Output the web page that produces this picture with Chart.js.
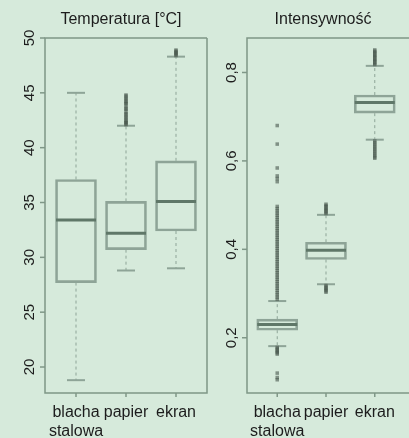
<!DOCTYPE html>
<html>
<head>
<meta charset="utf-8">
<script src="https://cdn.jsdelivr.net/npm/chart.js@4"></script>
<style>
html, body { margin: 0; padding: 0; background: #d6eadb; overflow: hidden; }
#wrap { position: relative; width: 409px; height: 438px; }
canvas { position: absolute; left: 0; top: 0; }
</style>
</head>
<body>
<div id="wrap">
	<canvas id="tempChart" width="409" height="438"></canvas>
	<canvas id="intChart" width="409" height="438"></canvas>
</div>
<script>
// Categories (shared by both panels)
const categories = [['blacha', 'stalowa'], ['papier'], ['ekran']];

// Temperatura [°C]
const tempLow = [18.8, 28.8, 29.0];
const tempQ1 = [27.7, 30.7, 32.4];
const tempMedian = [33.4, 32.2, 35.1];
const tempQ3 = [37.1, 35.1, 38.8];
const tempHigh = [45.0, 42.0, 48.3];
const tempOutliers = [
	[],
	[42.1, 42.2, 42.3, 42.4, 42.5, 42.7, 42.8, 43.0, 43.1, 43.3, 43.5, 43.6, 43.8, 44.0,
	 44.1, 44.2, 44.4, 44.5, 44.7, 44.8],
	[48.4, 48.5, 48.6, 48.7, 48.8, 48.9]
];
const tempTicks = [20, 25, 30, 35, 40, 45, 50];
const tempTickLabels = ['20', '25', '30', '35', '40', '45', '50'];

// Intensywność
const intLow = [0.181, 0.321, 0.648];
const intQ1 = [0.217, 0.377, 0.708];
const intMedian = [0.230, 0.398, 0.732];
const intQ3 = [0.242, 0.416, 0.749];
const intHigh = [0.283, 0.478, 0.815];
const intOutliers = [
	[0.287, 0.292, 0.297, 0.302, 0.307, 0.312, 0.317, 0.322, 0.327, 0.332, 0.337, 0.342,
	 0.347, 0.352, 0.357, 0.362, 0.367, 0.372, 0.377, 0.382, 0.387, 0.392, 0.397, 0.402,
	 0.407, 0.412, 0.417, 0.422, 0.427, 0.432, 0.437, 0.442, 0.447, 0.452, 0.457, 0.462,
	 0.467, 0.472, 0.477, 0.482, 0.487, 0.492, 0.497, 0.553, 0.560, 0.566, 0.584, 0.638, 0.68,
	 0.178, 0.175, 0.172, 0.169, 0.166, 0.163, 0.12, 0.11, 0.105],
	[0.481, 0.484, 0.487, 0.490, 0.493, 0.496, 0.499, 0.502,
	 0.318, 0.315, 0.312, 0.309, 0.306, 0.303],
	[0.818, 0.821, 0.824, 0.827, 0.830, 0.833, 0.836, 0.839, 0.842, 0.845, 0.848, 0.851,
	 0.645, 0.641, 0.637, 0.633, 0.629, 0.625, 0.621, 0.617, 0.613, 0.609, 0.606]
];
const intTicks = [0.2, 0.4, 0.6, 0.8];
const intTickLabels = ['0,2', '0,4', '0,6', '0,8'];

const FONT = '"Liberation Sans", Arial, sans-serif';
const frameColor = '#7f9787';
const boxColor = '#8ea497';
const medianColor = '#5f7768';
const textColor = '#1c1c1c';

function makeBoxPlugin(p) {
	function line(ctx, x1, y1, x2, y2) {
		ctx.beginPath();
		ctx.moveTo(x1, y1);
		ctx.lineTo(x2, y2);
		ctx.stroke();
	}
	return {
		id: 'boxParts',
		beforeDatasetsDraw(chart) {
			const {ctx, scales: {x, y}} = chart;
			ctx.save();
			ctx.strokeStyle = boxColor;
			ctx.lineWidth = 1;
			p.median.forEach((m, i) => {
				const cx = x.getPixelForValue(i + 1);
				const half = 9;
				ctx.setLineDash([3, 3]);
				line(ctx, cx, y.getPixelForValue(p.q3[i]), cx, y.getPixelForValue(p.high[i]));
				line(ctx, cx, y.getPixelForValue(p.q1[i]), cx, y.getPixelForValue(p.low[i]));
				ctx.setLineDash([]);
				ctx.lineWidth = 2;
				line(ctx, cx - half, y.getPixelForValue(p.high[i]), cx + half, y.getPixelForValue(p.high[i]));
				line(ctx, cx - half, y.getPixelForValue(p.low[i]), cx + half, y.getPixelForValue(p.low[i]));
				ctx.lineWidth = 1;
			});
			ctx.restore();
		},
		afterDatasetsDraw(chart) {
			const {ctx, scales: {x, y}} = chart;
			ctx.save();
			ctx.strokeStyle = medianColor;
			ctx.lineWidth = 3;
			p.median.forEach((m, i) => {
				const cx = x.getPixelForValue(i + 1);
				const py = y.getPixelForValue(m);
				line(ctx, cx - 20, py, cx + 20, py);
			});
			ctx.restore();
		},
		afterDraw(chart) {
			const {ctx, chartArea: a, scales: {x, y}} = chart;
			ctx.save();
			ctx.strokeStyle = frameColor;
			ctx.lineWidth = 1.5;
			ctx.beginPath();
			const r = p.rightBorder ? a.right : a.right + 5;
			ctx.moveTo(r, a.top);
			ctx.lineTo(a.left, a.top);
			ctx.lineTo(a.left, a.bottom);
			ctx.lineTo(r, a.bottom);
			if (p.rightBorder) ctx.lineTo(a.right, a.top);
			ctx.stroke();

			// y ticks + rotated labels
			ctx.fillStyle = textColor;
			ctx.font = '15px ' + FONT;
			ctx.textAlign = 'center';
			ctx.textBaseline = 'middle';
			p.ticks.forEach((t, i) => {
				const py = y.getPixelForValue(t);
				line(ctx, a.left - 5, py, a.left, py);
				ctx.save();
				ctx.translate(a.left - 15, py);
				ctx.rotate(-Math.PI / 2);
				ctx.fillText(p.tickLabels[i], 0, 0);
				ctx.restore();
			});

			// x ticks + category labels
			ctx.font = '16px ' + FONT;
			categories.forEach((c, i) => {
				const cx = x.getPixelForValue(i + 1);
				line(ctx, cx, a.bottom, cx, a.bottom + 4);
				c.forEach((txt, k) => ctx.fillText(txt, cx, a.bottom + 20 + k * 19));
			});

			// title
			ctx.font = '16px ' + FONT;
			ctx.fillText(p.title, p.titleX, 20);
			ctx.restore();
		}
	};
}

function makePanel(id, p) {
	const boxes = p.q1.map((q, i) => ({x: i + 1, y: [q, p.q3[i]]}));
	const points = [];
	p.outliers.forEach((list, i) => list.forEach(v => points.push({x: i + 1, y: v})));
	return new Chart(document.getElementById(id), {
		type: 'bar',
		data: {
			datasets: [{
				data: boxes,
				backgroundColor: 'rgba(0,0,0,0)',
				borderColor: boxColor,
				borderWidth: 2,
				borderSkipped: false,
				barThickness: 41
			}, {
				type: 'scatter',
				data: points,
				pointStyle: 'rect',
				pointRadius: 2.5,
				pointBorderWidth: 0,
				pointBackgroundColor: 'rgba(70,85,75,0.6)'
			}]
		},
		options: {
			responsive: false,
			animation: false,
			layout: {padding: p.padding},
			plugins: {legend: {display: false}, tooltip: {enabled: false}},
			scales: {
				x: {type: 'linear', min: 0.38, max: 3.62, offset: false, display: false},
				y: {type: 'linear', min: p.min, max: p.max, display: false}
			}
		},
		plugins: [makeBoxPlugin(p)]
	});
}

makePanel('tempChart', {
	low: tempLow, q1: tempQ1, median: tempMedian, q3: tempQ3, high: tempHigh,
	outliers: tempOutliers, ticks: tempTicks, tickLabels: tempTickLabels,
	min: 17.63, max: 50, title: 'Temperatura [°C]', titleX: 121,
	rightBorder: true,
	padding: {left: 45, right: 202, top: 38, bottom: 45}
});

makePanel('intChart', {
	low: intLow, q1: intQ1, median: intMedian, q3: intQ3, high: intHigh,
	outliers: intOutliers, ticks: intTicks, tickLabels: intTickLabels,
	min: 0.075, max: 0.878, title: 'Intensywność', titleX: 323,
	rightBorder: false,
	padding: {left: 247, right: 0, top: 38, bottom: 45}
});
</script>
</body>
</html>
